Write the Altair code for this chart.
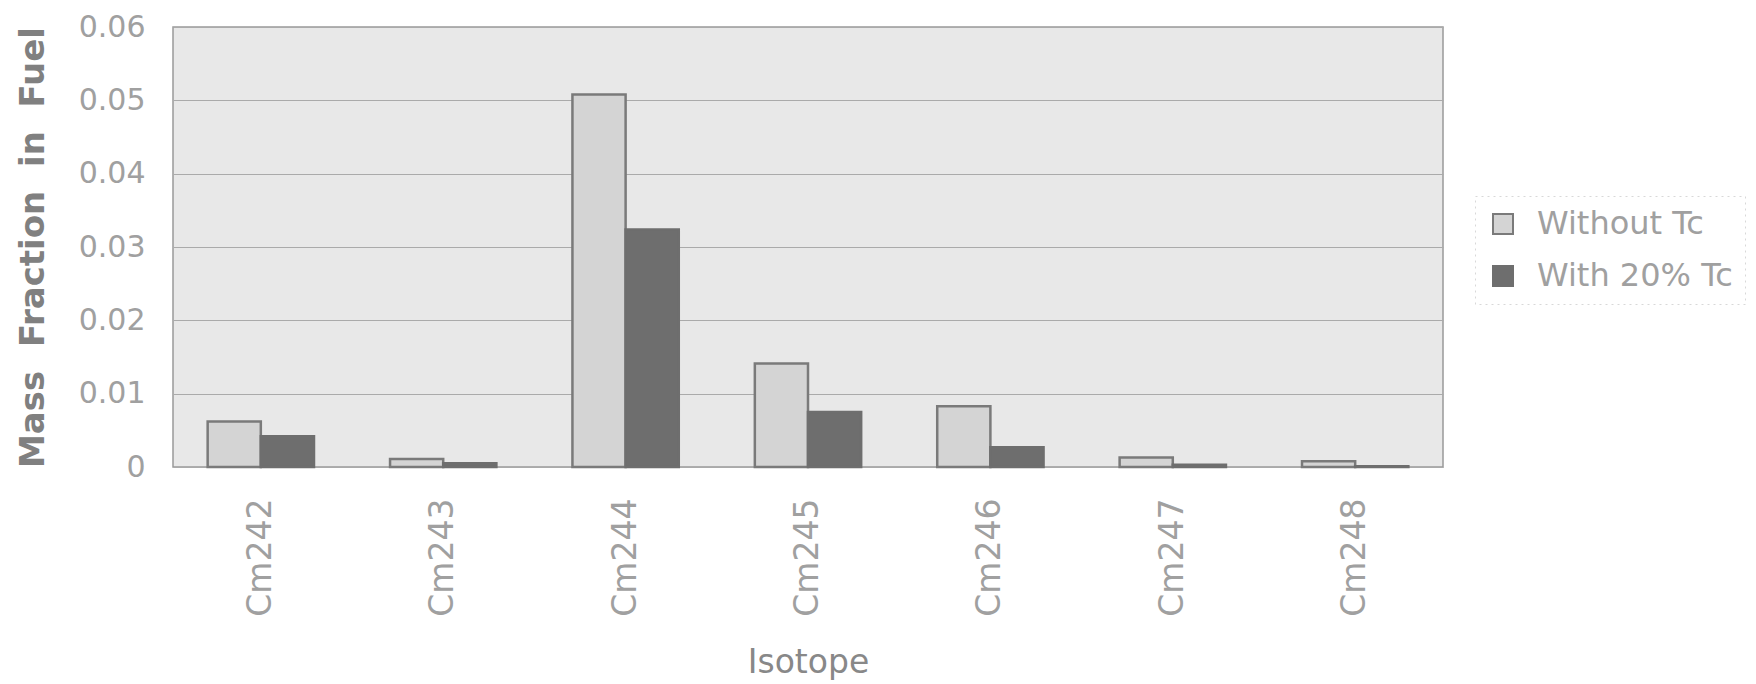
import altair as alt
import pandas as pd

isotopes = ["Cm242", "Cm243", "Cm244", "Cm245", "Cm246", "Cm247", "Cm248"]
without_tc = [0.0062, 0.0011, 0.0508, 0.0141, 0.0083, 0.0013, 0.0008]
with_tc = [0.0042, 0.0005, 0.0324, 0.0075, 0.0027, 0.0003, 0.0001]
series = ["Without Tc", "With 20% Tc"]
y_ticks = [0, 0.01, 0.02, 0.03, 0.04, 0.05, 0.06]

rows = []
for i, iso in enumerate(isotopes):
    rows.append({"Isotope": iso, "Series": series[0], "Value": without_tc[i]})
    rows.append({"Isotope": iso, "Series": series[1], "Value": with_tc[i]})
df = pd.DataFrame(rows)

font = "DejaVu Sans"

chart = alt.Chart(df).mark_bar(strokeWidth=2.5).encode(
    x=alt.X(
        "Isotope:N",
        sort=isotopes,
        scale=alt.Scale(paddingInner=0.417, paddingOuter=0.19),
        axis=alt.Axis(
            title="Isotope",
            labelAngle=-90,
            labelFont=font,
            labelFontSize=33,
            labelColor="#a0a0a0",
            labelPadding=31,
            ticks=False,
            domain=False,
            titleFont=font,
            titleFontSize=33,
            titleFontWeight="normal",
            titleColor="#888888",
            titlePadding=30,
        ),
    ),
    xOffset=alt.XOffset("Series:N", sort=series, scale=alt.Scale(paddingInner=0, paddingOuter=0)),
    y=alt.Y(
        "Value:Q",
        scale=alt.Scale(domain=[0, 0.06], nice=False),
        axis=alt.Axis(
            title="Mass\u00a0 Fraction\u00a0 in\u00a0 Fuel",
            values=y_ticks,
            labelExpr="datum.value == 0 ? '0' : format(datum.value, '.2f')",
            labelFont=font,
            labelFontSize=30,
            labelColor="#a0a0a0",
            labelPadding=28,
            ticks=False,
            domain=False,
            gridColor="#aaaaaa",
            gridWidth=1,
            titleFont=font,
            titleFontSize=34,
            titleFontWeight="bold",
            titleColor="#808080",
            titlePadding=28,
        ),
    ),
    fill=alt.Fill(
        "Series:N",
        sort=series,
        scale=alt.Scale(domain=series, range=["#d4d4d4", "#6e6e6e"]),
        legend=alt.Legend(title=None),
    ),
    stroke=alt.Stroke(
        "Series:N",
        sort=series,
        scale=alt.Scale(domain=series, range=["#7a7a7a", "#6e6e6e"]),
        legend=alt.Legend(title=None),
    ),
).properties(
    width=1270,
    height=440,
    autosize=alt.AutoSizeParams(type="none"),
    padding={"left": 165, "top": 19, "right": 305, "bottom": 215},
).configure_view(
    fill="#e8e8e8",
    stroke="#999999",
    strokeWidth=1.5,
).configure_legend(
    orient="none",
    legendX=1302,
    legendY=169,
    padding=12,
    strokeColor="#d8d8d8",
    strokeDash=[2, 4],
    symbolType="square",
    symbolSize=400,
    symbolStrokeWidth=2,
    labelFont=font,
    labelFontSize=32,
    labelColor="#a0a0a0",
    labelOffset=18,
    labelLimit=0,
    rowPadding=20,
)

chart.save("out.html", embed_options={"renderer": "svg", "actions": False})
